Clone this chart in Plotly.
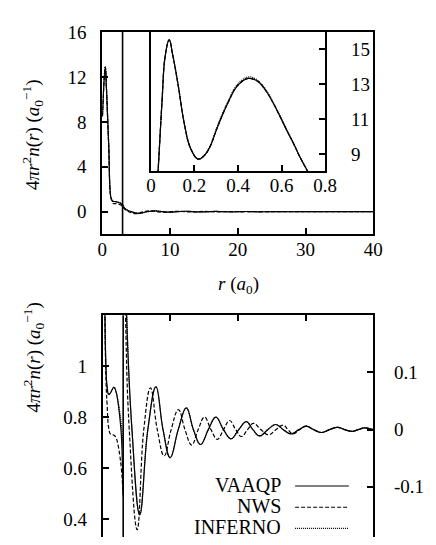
import plotly.graph_objects as go

# Wigner-Seitz radius (a0)
R_WS = 3.0

# core region (inset), r in a0, 4 pi r^2 n(r) in a0^-1
r_core = [0.025, 0.033, 0.051, 0.066, 0.084, 0.1, 0.125, 0.154, 0.183, 0.217, 0.245, 0.271,
          0.3, 0.33, 0.36, 0.389, 0.42, 0.448, 0.48, 0.507, 0.535, 0.565, 0.595, 0.624,
          0.655, 0.683, 0.72]
vaaqp_core = [6.5, 8.0, 12.0, 14.65, 15.55, 14.7, 12.97, 10.7, 9.3, 8.7, 8.9, 9.4,
              10.35, 11.28, 12.1, 12.78, 13.18, 13.34, 13.25, 12.97, 12.5, 11.84, 11.1, 10.35,
              9.6, 8.85, 8.0]
nws_core = [6.5, 8.0, 12.0, 14.65, 15.55, 14.7, 12.97, 10.7, 9.3, 8.7, 8.9, 9.4,
            10.35, 11.28, 12.1, 12.78, 13.18, 13.34, 13.25, 12.97, 12.5, 11.84, 11.1, 10.35,
            9.6, 8.85, 8.0]
inferno_core = [6.5, 8.0, 12.0, 14.65, 15.55, 14.7, 12.97, 10.7, 9.3, 8.72, 8.93, 9.45,
                10.42, 11.36, 12.18, 12.86, 13.26, 13.42, 13.32, 13.03, 12.55, 11.88, 11.13, 10.37,
                9.61, 8.86, 8.0]

# main panel, coarse sampling near the nucleus
r_top = [0.03, 0.45, 0.62, 0.95, 1.3, 1.5]
top_near = [8.5, 12.9, 11.0, 6.0, 1.2, 0.95]

# inside the Wigner-Seitz sphere (lower panel, left axis)
r_in = [0.2, 0.3, 0.45, 0.62, 0.85, 1.1, 1.4, 1.65, 1.95, 2.25, 2.5, 2.73, 2.9, 3.0]
vaaqp_in = [1.5, 1.2, 1.0, 0.92, 0.89, 0.895, 0.91, 0.918, 0.9, 0.857, 0.8, 0.73, 0.6, 0.49]
nws_in = [1.5, 1.2, 0.95, 0.85, 0.76, 0.735, 0.732, 0.73, 0.72, 0.69, 0.65, 0.6, 0.54, 0.5]
inferno_in = [1.5, 1.2, 1.0, 0.92, 0.89, 0.895, 0.91, 0.918, 0.9, 0.86, 0.82, 0.77, 0.72, 0.68]

# outside the sphere (lower panel, right axis)
r_out_vaaqp = [3.0, 3.5, 4.3, 5.45, 6.65, 7.85, 8.9, 9.96, 11.15, 12.35,
               13.4, 14.46, 15.6, 16.72, 17.85, 18.97, 20.1, 21.23, 22.2, 23.2,
               24.4, 25.59, 26.7, 27.85, 29.0, 30.11, 31.2, 32.36, 33.55, 34.76,
               35.8, 36.86, 37.8, 38.69, 40.0]
vaaqp_out = [0.49, 0.2, 0.0, -0.149, 0, 0.075, 0, -0.049, 0, 0.038,
             0, -0.026, 0, 0.022, 0, -0.016, 0, 0.014, 0, -0.011,
             0, 0.009, 0, -0.0075, 0, 0.006, 0, -0.005, 0, 0.004,
             0, -0.003, 0, 0.003, 0.0]
inferno_out = [0.68, 0.22, 0.0, -0.148, 0, 0.075, 0, -0.049, 0, 0.038,
               0, -0.026, 0, 0.022, 0, -0.016, 0, 0.014, 0, -0.011,
               0, 0.009, 0, -0.0075, 0, 0.006, 0, -0.005, 0, 0.004,
               0, -0.003, 0, 0.003, 0.0]
r_out_nws = [3.0, 3.35, 3.9, 5.07, 6.05, 7.04, 8.05, 9.07, 10.1, 11.18,
             12.15, 13.13, 14.1, 15.03, 16.0, 16.93, 17.85, 18.76, 19.65, 20.52,
             21.4, 22.28, 23.4, 24.54, 25.6, 26.68, 27.4, 28.13, 29.1, 30.11,
             31.2, 32.36, 33.55, 34.76, 35.8, 36.86, 37.8, 38.69, 40.0]
nws_out = [0.5, 0.2, 0, -0.175, 0, 0.073, 0, -0.046, 0, 0.035,
           0, -0.027, 0, 0.022, 0, -0.017, 0, 0.016, 0, -0.012,
           0, 0.011, 0, -0.009, 0, 0.008, 0, -0.0075, 0, 0.006,
           0, -0.005, 0, 0.004, 0, -0.003, 0, 0.003, 0]

names = ["VAAQP", "NWS", "INFERNO"]
dashes = ["solid", "4px,2px", "1px,1px"]

FONT = "Liberation Serif, DejaVu Serif, serif"
# page body keeps its 8px margin, so the figure is 16px smaller than the window
W, H = 420, 529


def px(x):
    return (x - 8) / W


def py(y):
    return 1 - (y - 8) / H


def join(r_in_, v_in, r_out, v_out):
    # main panel curve: coarse core + inner part + outer part
    rr = list(r_top) + [r for r in r_in_ if r > 1.6] + list(r_out[1:])
    vv = list(top_near) + [v for r, v in zip(r_in_, v_in) if r > 1.6] + list(v_out[1:])
    return rr, vv


fig = go.Figure()
line = dict(color="black", width=1.2, shape="spline", smoothing=1.2)

series = [
    (vaaqp_core, vaaqp_in, r_out_vaaqp, vaaqp_out),
    (nws_core, nws_in, r_out_nws, nws_out),
    (inferno_core, inferno_in, r_out_vaaqp, inferno_out),
]
for i in [2, 1, 0]:
    core, inner, r_out, outer = series[i]
    ln = dict(line, dash=dashes[i])
    rr, vv = join(r_in, inner, r_out, outer)
    fig.add_trace(go.Scatter(x=rr, y=vv, mode="lines", line=ln, xaxis="x", yaxis="y",
                             showlegend=False))
    fig.add_trace(go.Scatter(x=r_core, y=core, mode="lines", line=ln, xaxis="x2", yaxis="y2",
                             showlegend=False))
    fig.add_trace(go.Scatter(x=r_in, y=inner, mode="lines", line=ln, xaxis="x3", yaxis="y3",
                             showlegend=False))
    fig.add_trace(go.Scatter(x=r_out, y=outer, mode="lines", line=ln, xaxis="x3", yaxis="y4",
                             showlegend=False))

tickfont = dict(family=FONT, size=19, color="black")
ax = dict(showline=True, linecolor="black", linewidth=2, ticks="inside", ticklen=6,
          tickwidth=1.5, tickcolor="black", showgrid=False, zeroline=False, tickfont=tickfont)

fig.update_layout(
    width=W, height=H,
    margin=dict(l=0, r=0, t=0, b=0),
    paper_bgcolor="white", plot_bgcolor="white",
    font=dict(family=FONT, size=19, color="black"),
    xaxis=dict(ax, domain=[px(101), px(383.5)], anchor="y", range=[0, 40],
               tickvals=[0, 10, 20, 30, 40], mirror=True, ticklabelstandoff=-3),
    yaxis=dict(ax, domain=[py(228.3), py(22.3)], anchor="x", range=[-2, 16],
               tickvals=[0, 4, 8, 12, 16], mirror=True, ticklabelstandoff=10),
    xaxis2=dict(ax, domain=[px(151.7), px(333.3)], anchor="y2", range=[0, 0.8],
                tickvals=[0, 0.2, 0.4, 0.6, 0.8], ticktext=["0", "0.2", "0.4", "0.6", "0.8"],
                mirror=True, ticklabelstandoff=-4),
    yaxis2=dict(ax, domain=[py(164.3), py(22.3)], anchor="x2", side="right", range=[8, 16],
                tickvals=[9, 11, 13, 15], mirror=True, ticklabelstandoff=20),
    # lower panel runs off the bottom of the page: only the top edge is drawn
    xaxis3=dict(ax, domain=[px(101.7), px(383.3)], anchor="y3", side="top", range=[0, 40],
                tickvals=[10, 20, 30], showticklabels=False),
    yaxis3=dict(ax, domain=[0, py(311)], anchor="x3", range=[0.331, 1.2],
                tickvals=[0.4, 0.6, 0.8, 1.0], ticktext=["0.4", "0.6", "0.8", "1"],
                ticklabelstandoff=10),
    yaxis4=dict(ax, domain=[0, py(311)], anchor="x3", overlaying="y3", side="right",
                range=[-0.1877, 0.2], tickvals=[-0.1, 0, 0.1], ticktext=["-0.1", "0", "0.1"],
                ticklabelstandoff=15),
)

# Wigner-Seitz radius markers
for xr, yr in [("x", "y"), ("x3", "y3")]:
    fig.add_shape(type="line", xref=xr, yref=yr + " domain", x0=R_WS, x1=R_WS, y0=0, y1=1,
                  line=dict(color="black", width=1.6))

ylab = "4<i>πr</i><sup>2</sup><i>n</i>(<i>r</i>) (<i>a</i><sub>0</sub><sup>−1</sup>)"
for yc in [127, 354]:
    fig.add_annotation(text=ylab, xref="paper", yref="paper", x=px(29), y=py(yc),
                       xanchor="center", yanchor="middle", textangle=-90,
                       showarrow=False, font=dict(family=FONT, size=19))
fig.add_annotation(text="<i>r</i> (<i>a</i><sub>0</sub>)", xref="paper", yref="paper",
                   x=px(243), y=py(280), xanchor="center", yanchor="middle",
                   showarrow=False, font=dict(family=FONT, size=19))

# legend: label on the left, line sample on the right
for i, yy in enumerate([485, 506.7, 528.3]):
    fig.add_annotation(text=names[i], xref="paper", yref="paper", x=px(289), y=py(yy - 1.5),
                       xanchor="right", yanchor="middle", height=21, valign="middle",
                       showarrow=False, font=dict(family=FONT, size=20))
    fig.add_shape(type="line", xref="paper", yref="paper", x0=px(302), x1=px(358),
                  y0=py(yy), y1=py(yy), line=dict(color="black", width=1.2, dash=dashes[i]))

fig.write_html("out.html")
